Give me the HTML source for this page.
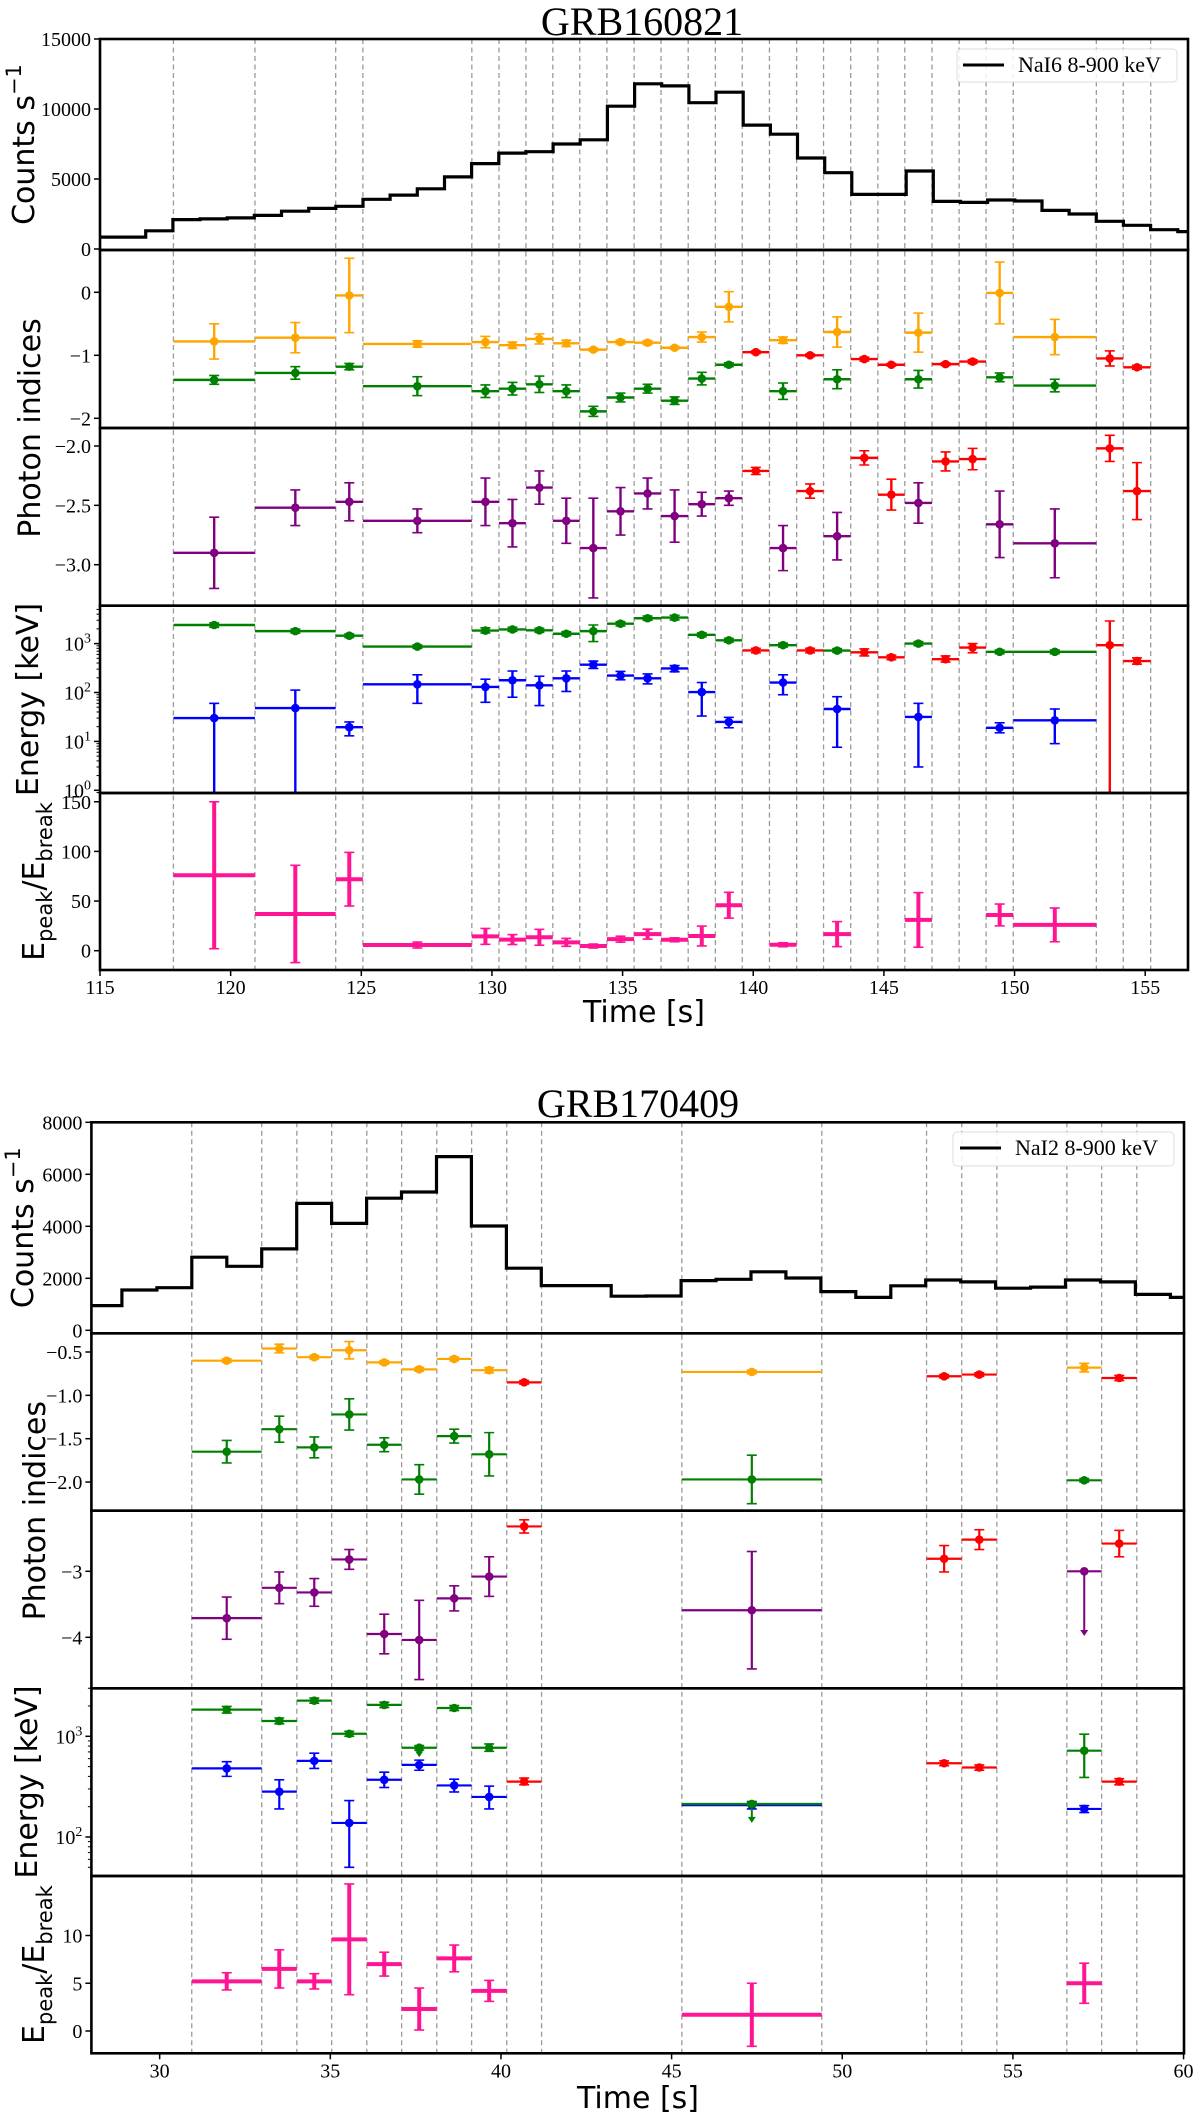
<!DOCTYPE html>
<html><head><meta charset="utf-8">
<style>html,body{margin:0;padding:0;background:#fff}svg{display:block}</style>
</head><body>
<svg id="chart" xmlns="http://www.w3.org/2000/svg" width="1200" height="2120" viewBox="0 0 1200 2120">
<rect x="0" y="0" width="1200" height="2120" fill="#fff"/>
<g id="layer"></g>
<text x="642" y="35" font-family="Liberation Serif, serif" font-size="40" text-anchor="middle">GRB160821</text>
<text x="638" y="1117" font-family="Liberation Serif, serif" font-size="40" text-anchor="middle">GRB170409</text>

<text transform="translate(34,144.5) rotate(-90)" text-anchor="middle" font-family="DejaVu Sans, sans-serif" font-size="30">Counts s<tspan dy="-13" font-size="21">−1</tspan></text>
<text transform="translate(40,428) rotate(-90)" text-anchor="middle" font-family="DejaVu Sans, sans-serif" font-size="30">Photon indices</text>
<text transform="translate(38,699.5) rotate(-90)" text-anchor="middle" font-family="DejaVu Sans, sans-serif" font-size="30">Energy [keV]</text>
<text transform="translate(44,881.5) rotate(-90)" text-anchor="middle" font-family="DejaVu Sans, sans-serif" font-size="30">E<tspan dy="8" font-size="21">peak</tspan><tspan dy="-8">/E</tspan><tspan dy="8" font-size="21">break</tspan></text>
<text x="644" y="1022" text-anchor="middle" font-family="DejaVu Sans, sans-serif" font-size="30">Time [s]</text>

<text transform="translate(33,1227.7) rotate(-90)" text-anchor="middle" font-family="DejaVu Sans, sans-serif" font-size="30">Counts s<tspan dy="-13" font-size="21">−1</tspan></text>
<text transform="translate(45,1510.7) rotate(-90)" text-anchor="middle" font-family="DejaVu Sans, sans-serif" font-size="30">Photon indices</text>
<text transform="translate(37,1782) rotate(-90)" text-anchor="middle" font-family="DejaVu Sans, sans-serif" font-size="30">Energy [keV]</text>
<text transform="translate(44,1964.6) rotate(-90)" text-anchor="middle" font-family="DejaVu Sans, sans-serif" font-size="30">E<tspan dy="8" font-size="21">peak</tspan><tspan dy="-8">/E</tspan><tspan dy="8" font-size="21">break</tspan></text>
<text x="638" y="2108" text-anchor="middle" font-family="DejaVu Sans, sans-serif" font-size="30">Time [s]</text>

<g>
<rect x="957" y="49" width="220" height="33" rx="4" fill="#fff" fill-opacity="0.85" stroke="#ddd" stroke-width="1"/>
<line x1="963" y1="65" x2="1004" y2="65" stroke="#000" stroke-width="3"/>
<text x="1018" y="72" font-family="Liberation Serif, serif" font-size="22">NaI6 8-900 keV</text>
</g>
<g>
<rect x="953" y="1132" width="221" height="34" rx="4" fill="#fff" fill-opacity="0.85" stroke="#ddd" stroke-width="1"/>
<line x1="960" y1="1148" x2="1001" y2="1148" stroke="#000" stroke-width="3"/>
<text x="1015" y="1155" font-family="Liberation Serif, serif" font-size="22">NaI2 8-900 keV</text>
</g>
</svg>
<script>
// ================= GRB160821 data =================
const f1Edges = [117.81,120.93,124.02,125.06,129.23,130.27,131.30,132.33,133.36,134.40,135.44,136.47,137.51,138.55,139.58,140.62,141.66,142.69,143.73,144.77,145.80,146.84,147.88,148.91,149.95,153.13,154.16,155.21];
const f1LcStart = 114.67;
const f1LcStep = 1.0394;
const f1LcCounts = [850,850,1300,2100,2150,2220,2400,2700,2900,3050,3550,3850,4300,5150,6100,6850,6950,7500,7800,10200,11800,11650,10450,11200,8850,8200,6500,5450,3900,3900,5570,3400,3330,3500,3430,2760,2500,1980,1690,1380,1240];
const f1Alpha = [-0.78,-0.72,-0.05,-0.82,-0.79,-0.84,-0.74,-0.81,-0.91,-0.79,-0.80,-0.88,-0.71,-0.23,null,-0.76,null,-0.63,null,null,-0.64,null,null,-0.01,-0.71,null,null];
const f1AlphaErr = [0.28,0.24,0.59,0.05,0.09,0.05,0.08,0.05,0.02,0.03,0.03,0.02,0.08,0.24,null,0.05,null,0.24,null,null,0.31,null,null,0.49,0.28,null,null];
const f1Beta = [-1.39,-1.28,-1.18,-1.49,-1.57,-1.53,-1.46,-1.57,-1.89,-1.67,-1.53,-1.72,-1.37,-1.15,null,-1.57,null,-1.38,null,null,-1.38,null,null,-1.35,-1.48,null,null];
const f1BetaErr = [0.07,0.1,0.05,0.15,0.1,0.1,0.13,0.1,0.08,0.07,0.07,0.06,0.1,0.03,null,0.13,null,0.15,null,null,0.14,null,null,0.07,0.1,null,null];
const f1RedIdx = [null,null,null,null,null,null,null,null,null,null,null,null,null,null,-0.95,null,-1.0,null,-1.06,-1.15,null,-1.14,-1.10,null,null,-1.05,-1.19];
const f1RedIdxErr = [null,null,null,null,null,null,null,null,null,null,null,null,null,null,0.02,null,0.02,null,0.03,0.02,null,0.02,0.03,null,null,0.12,0.03];
const f1Purple = [-2.90,-2.52,-2.47,-2.63,-2.47,-2.65,-2.35,-2.63,-2.86,-2.55,-2.40,-2.59,-2.49,-2.44,null,-2.86,null,-2.76,null,null,-2.48,null,null,-2.66,-2.82,null,null];
const f1PurpleErr = [0.30,0.15,0.16,0.1,0.2,0.2,0.14,0.19,0.42,0.2,0.13,0.22,0.1,0.06,null,0.19,null,0.2,null,null,0.17,null,null,0.28,0.29,null,null];
const f1RedIdx2 = [null,null,null,null,null,null,null,null,null,null,null,null,null,null,-2.21,null,-2.38,null,-2.10,-2.41,null,-2.13,-2.11,null,null,-2.02,-2.38];
const f1RedIdx2Err = [null,null,null,null,null,null,null,null,null,null,null,null,null,null,0.03,null,0.06,null,0.06,0.13,null,0.08,0.09,null,null,0.11,0.24];
const f1Epeak = [2400,1800,1450,870,1850,1950,1870,1590,1800,2550,3300,3400,1510,1170,null,930,null,720,null,null,1000,null,null,680,680,null,null];
const f1EpeakLo = [2150,1640,1330,800,1650,1780,1700,1450,1100,2300,3000,3050,1380,1070,null,850,null,660,null,null,910,null,null,620,620,null,null];
const f1EpeakHi = [2650,1980,1580,940,2100,2150,2050,1750,2400,2800,3650,3800,1650,1280,null,1020,null,790,null,null,1100,null,null,740,740,null,null];
const f1Ebreak = [30,48,19.5,147,130,178,140,195,370,222,195,310,102,25,null,160,null,46,null,null,31.6,null,null,19,27,null,null];
const f1EbreakLo = [0.5,0.5,13,60,63,80,54,105,310,182,150,265,33,19,null,90,null,7.6,null,null,3,null,null,15,9,null,null];
const f1EbreakHi = [60,112,25,230,187,275,215,275,440,270,240,355,160,31,null,230,null,82,null,null,60,null,null,24,46,null,null];
const f1RedE = [null,null,null,null,null,null,null,null,null,null,null,null,null,null,725,null,725,null,665,525,null,480,830,null,null,930,440];
const f1RedELo = [null,null,null,null,null,null,null,null,null,null,null,null,null,null,650,null,650,null,560,470,null,420,650,null,null,0.5,380];
const f1RedEHi = [null,null,null,null,null,null,null,null,null,null,null,null,null,null,800,null,800,null,780,580,null,560,1000,null,null,2900,510];
const f1Ratio = [76,37,72,5.7,14.4,11.2,13.5,8.4,4.7,11.6,16.7,11,14.8,45.8,null,6,null,16.7,null,null,31,null,null,36,26,null,null];
const f1RatioErr = [74,49,27,3,8,5,8,4,2,3,5,2,10,13,null,2,null,12.6,null,null,27.5,null,null,11,17,null,null];
const f1XTicks = [115,120,125,130,135,140,145,150,155];
const f1CountTicks = [0,5000,10000,15000];
const f1IdxTicks = [0,-1,-2];
const f1IdxTickLabels = ['0','−1','−2'];
const f1Idx2Ticks = [-2.0,-2.5,-3.0];
const f1Idx2TickLabels = ['−2.0','−2.5','−3.0'];
const f1EnergyDecades = [0,1,2,3];
const f1RatioTicks = [0,50,100,150];

// ================= GRB170409 data =================
const f2Grid = [30.94,32.99,34.02,35.04,36.07,37.09,38.12,39.14,40.17,41.19,45.3,49.4,52.47,53.5,54.53,56.58,57.6,58.63];
const f2Start = [30.94,32.99,34.02,35.04,36.07,37.09,38.12,39.14,40.17,45.3,52.47,53.5,56.58,57.6];
const f2End =   [32.99,34.02,35.04,36.07,37.09,38.12,39.14,40.17,41.19,49.4,53.5,54.53,57.6,58.63];
const f2LcStart = 27.87;
const f2LcStep = 1.024;
const f2LcCounts = [950,1550,1640,2810,2460,3130,4880,4110,5080,5320,6680,4010,2390,1720,1720,1310,1320,1910,1960,2250,2010,1490,1265,1710,1935,1860,1620,1660,1935,1860,1380,1265];
const f2Alpha = [-0.60,-0.46,-0.56,-0.48,-0.62,-0.70,-0.58,-0.71,null,-0.73,null,null,-0.68,null];
const f2AlphaErr = [0.02,0.05,0.02,0.1,0.02,0.02,0.02,0.03,null,0.02,null,null,0.05,null];
const f2Beta = [-1.65,-1.39,-1.60,-1.22,-1.57,-1.97,-1.47,-1.68,null,-1.97,null,null,-1.98,null];
const f2BetaErr = [0.13,0.15,0.12,0.18,0.08,0.17,0.08,0.25,null,0.28,null,null,0.02,null];
const f2RedIdx = [null,null,null,null,null,null,null,null,-0.85,null,-0.78,-0.76,null,-0.80];
const f2RedIdxErr = [null,null,null,null,null,null,null,null,0.02,null,0.02,0.02,null,0.03];
const f2Purple = [-3.71,-3.25,-3.32,-2.82,-3.95,-4.04,-3.41,-3.08,null,-3.59,null,null,-3.0,null];
const f2PurpleErr = [0.32,0.24,0.21,0.15,0.3,0.6,0.19,0.3,null,0.89,null,null,0,null];
const f2PurpleUL = [null,null,null,null,null,null,null,null,null,null,null,null,-3.98,null];
const f2RedIdx2 = [null,null,null,null,null,null,null,null,-2.32,null,-2.81,-2.52,null,-2.58];
const f2RedIdx2Err = [null,null,null,null,null,null,null,null,0.1,null,0.2,0.15,null,0.2];
const f2Epeak = [1840,1420,2260,1060,2050,770,1910,770,null,213,null,null,720,null];
const f2EpeakLo = [1700,1330,2130,1000,1930,730,1800,710,null,205,null,null,390,null];
const f2EpeakHi = [1980,1520,2400,1120,2180,810,2020,840,null,222,null,null,1050,null];
const f2EpeakUL = [null,null,null,null,null,620,null,null,null,138,null,null,null,null];
const f2Ebreak = [480,282,570,138,370,520,325,250,null,207,null,null,190,null];
const f2EbreakLo = [400,190,480,50,310,460,280,190,null,190,null,null,175,null];
const f2EbreakHi = [560,370,680,230,440,580,375,320,null,225,null,null,205,null];
const f2RedE = [null,null,null,null,null,null,null,null,355,null,540,490,null,355];
const f2RedELo = [null,null,null,null,null,null,null,null,330,null,510,460,null,330];
const f2RedEHi = [null,null,null,null,null,null,null,null,385,null,570,520,null,380];
const f2Ratio = [5.2,6.5,5.2,9.6,7.0,2.3,7.6,4.2,null,1.7,null,null,5.0,null];
const f2RatioErr = [0.9,2.0,0.8,5.8,1.25,2.2,1.4,1.1,null,3.3,null,null,2.1,null];
const f2XTicks = [30,35,40,45,50,55,60];
const f2CountTicks = [0,2000,4000,6000,8000];
const f2IdxTicks = [-0.5,-1.0,-1.5,-2.0];
const f2IdxTickLabels = ['−0.5','−1.0','−1.5','−2.0'];
const f2Idx2Ticks = [-3,-4];
const f2Idx2TickLabels = ['−3','−4'];
const f2EnergyDecades = [2,3];
const f2RatioTicks = [0,5,10];

// ================= rendering =================
const NS = 'http://www.w3.org/2000/svg';
const layer = document.getElementById('layer');
function mk(tag, attrs, parent) {
  const e = document.createElementNS(NS, tag);
  for (const k in attrs) e.setAttribute(k, attrs[k]);
  (parent || layer).appendChild(e);
  return e;
}
const log10 = Math.log10;

const fig1 = {
  id: 'fig1', left: 100, right: 1188, xmin: 115, xmax: 156.63,
  X: t => 100 + (t - 115) * 26.13,
  panels: [
    {top: 39, bot: 250, y: v => 249 - v * (210 / 15000)},
    {top: 250, bot: 428, y: v => 292.3 - v * 63},
    {top: 428, bot: 605.7, y: v => 446 + (-2 - v) * 118.7},
    {top: 605.7, bot: 793, y: v => 790.3 - log10(v) * 48.9, log: true, lmin: -0.05, lmax: 3.77},
    {top: 793, bot: 970, y: v => 950.7 - v * 0.993}
  ]
};
const fig2 = {
  id: 'fig2', left: 91.4, right: 1184, xmin: 28, xmax: 60,
  X: t => 91.4 + (t - 28) * 34.13,
  panels: [
    {top: 1122.3, bot: 1333.3, y: v => 1330.3 - v * 0.026},
    {top: 1333.3, bot: 1510.7, y: v => 1352 + (-0.5 - v) * 86.7},
    {top: 1510.7, bot: 1688.3, y: v => 1571.3 + (-3 - v) * 66},
    {top: 1688.3, bot: 1876, y: v => 1736.3 - (log10(v) - 3) * 100.7, log: true, lmin: 1.61, lmax: 3.48},
    {top: 1876, bot: 2053.3, y: v => 2031 - v * 9.55}
  ]
};

function setupClips(fig) {
  const defs = mk('defs', {});
  fig.panels.forEach((p, i) => {
    const cp = mk('clipPath', {id: fig.id + 'clip' + i}, defs);
    mk('rect', {x: fig.left, y: p.top, width: fig.right - fig.left, height: p.bot - p.top}, cp);
  });
}

function drawGrid(fig, edges) {
  const g = mk('g', {});
  
  
  const top = fig.panels[0].top, bot = fig.panels[4].bot;
  edges.forEach(t => {
    const x = fig.X(t);
    const l = mk('line', {x1: x, x2: x, y1: top, y2: bot, stroke: '#9a9a9a', 'stroke-width': 1.3, 'stroke-dasharray': '5,3.5'}, g);
    
    
  });
}

function drawLightCurve(fig, start, step, counts) {
  const p = fig.panels[0];
  let d = '';
  counts.forEach((c, i) => {
    let t0 = start + i * step, t1 = t0 + step;
    if (t1 <= fig.xmin || t0 >= fig.xmax) return;
    t0 = Math.max(t0, fig.xmin); t1 = Math.min(t1, fig.xmax);
    const y = p.y(c);
    d += (d === '' ? 'M' : 'L') + fig.X(t0).toFixed(1) + ',' + y.toFixed(1) + 'L' + fig.X(t1).toFixed(1) + ',' + y.toFixed(1);
  });
  const path = mk('path', {d: d, fill: 'none', stroke: '#000', 'stroke-width': 3.2, 'stroke-linejoin': 'miter', 'clip-path': 'url(#' + fig.id + 'clip0)'});
  
  
}

function drawSeries(fig, pi, starts, ends, vals, lo, hi, color, lw, r, cap, name, ul) {
  const p = fig.panels[pi];
  const g = mk('g', {'clip-path': 'url(#' + fig.id + 'clip' + pi + ')'});
  
  
  vals.forEach((v, i) => {
    if (v === null || v === undefined) return;
    const x0 = fig.X(starts[i]), x1 = fig.X(ends[i]), xc = (x0 + x1) / 2;
    const y = p.y(v);
    const pg = mk('g', {}, g);
    
    
    mk('line', {x1: x0, x2: x1, y1: y, y2: y, stroke: color, 'stroke-width': lw}, pg);
    const ylo = p.y(lo[i]), yhi = p.y(hi[i]);
    if (Math.abs(ylo - yhi) > 0.5) {
      mk('line', {x1: xc, x2: xc, y1: yhi, y2: ylo, stroke: color, 'stroke-width': lw}, pg);
      mk('line', {x1: xc - cap, x2: xc + cap, y1: yhi, y2: yhi, stroke: color, 'stroke-width': 1.6}, pg);
      mk('line', {x1: xc - cap, x2: xc + cap, y1: ylo, y2: ylo, stroke: color, 'stroke-width': 1.6}, pg);
    }
    if (ul && ul[i] !== null && ul[i] !== undefined) {
      const ya = p.y(ul[i]);
      mk('line', {x1: xc, x2: xc, y1: y, y2: ya - 5, stroke: color, 'stroke-width': 2}, pg);
      const arrow = mk('path', {d: 'M' + (xc - 4) + ',' + (ya - 6) + 'L' + (xc + 4) + ',' + (ya - 6) + 'L' + xc + ',' + ya + 'Z', fill: color}, pg);
      
      
    }
    if (r > 0) {
      const c = mk('circle', {cx: xc, cy: y, r: r, fill: color}, pg);
      
      
    }
  });
}
function symLo(v, e) { return v.map((x, i) => x === null ? null : x - e[i]); }
function symHi(v, e) { return v.map((x, i) => x === null ? null : x + e[i]); }

function drawFrames(fig) {
  fig.panels.forEach((p, i) => {
    const r = mk('rect', {x: fig.left, y: p.top, width: fig.right - fig.left, height: p.bot - p.top, fill: 'none', stroke: '#000', 'stroke-width': 2.6});
    
    
  });
}

function yTicks(fig, pi, ticks, labels) {
  const p = fig.panels[pi];
  const g = mk('g', {});
  
  
  ticks.forEach((v, i) => {
    const y = p.y(v);
    mk('line', {x1: fig.left - 6, x2: fig.left, y1: y, y2: y, stroke: '#000', 'stroke-width': 1.5}, g);
    const t = mk('text', {x: fig.left - 9, y: y + 7, 'text-anchor': 'end', 'font-family': 'Liberation Serif, serif', 'font-size': 20}, g);
    t.textContent = labels ? labels[i] : String(v);
    
    
  });
}

function logTicks(fig, pi, decades) {
  const p = fig.panels[pi];
  const g = mk('g', {});
  
  
  for (let d = Math.floor(p.lmin); d <= Math.ceil(p.lmax); d++) {
    for (let m = 2; m <= 9; m++) {
      const l = d + log10(m);
      if (l < p.lmin || l > p.lmax) continue;
      const y = p.y(Math.pow(10, l));
      mk('line', {x1: fig.left - 3.5, x2: fig.left, y1: y, y2: y, stroke: '#000', 'stroke-width': 1}, g);
    }
  }
  decades.forEach(d => {
    const y = p.y(Math.pow(10, d));
    mk('line', {x1: fig.left - 6, x2: fig.left, y1: y, y2: y, stroke: '#000', 'stroke-width': 1.5}, g);
    const t = mk('text', {x: fig.left - 9, y: y + 7, 'text-anchor': 'end', 'font-family': 'Liberation Serif, serif', 'font-size': 20}, g);
    
    
    t.appendChild(document.createTextNode('10'));
    const s = mk('tspan', {dy: -8, 'font-size': 14}, t);
    s.textContent = String(d);
  });
}

function xTicks(fig, ticks) {
  const bot = fig.panels[4].bot;
  const g = mk('g', {});
  
  
  ticks.forEach(v => {
    const x = fig.X(v);
    mk('line', {x1: x, x2: x, y1: bot, y2: bot + 6, stroke: '#000', 'stroke-width': 1.5}, g);
    const t = mk('text', {x: x, y: bot + 24, 'text-anchor': 'middle', 'font-family': 'Liberation Serif, serif', 'font-size': 20}, g);
    t.textContent = String(v);
    
    
  });
}

const ORANGE = '#FFA500', GREEN = '#008000', PURPLE = '#800080', BLUE = '#0000FF', RED = '#FF0000', PINK = '#FF1493';

setupClips(fig1);
drawGrid(fig1, f1Edges);
drawLightCurve(fig1, f1LcStart, f1LcStep, f1LcCounts);
const f1S = f1Edges.slice(0, -1), f1E = f1Edges.slice(1);
drawSeries(fig1, 1, f1S, f1E, f1Alpha, symLo(f1Alpha, f1AlphaErr), symHi(f1Alpha, f1AlphaErr), ORANGE, 2.4, 4.3, 5, 'fig1-alpha');
drawSeries(fig1, 1, f1S, f1E, f1Beta, symLo(f1Beta, f1BetaErr), symHi(f1Beta, f1BetaErr), GREEN, 2.4, 4.3, 5, 'fig1-beta');
drawSeries(fig1, 1, f1S, f1E, f1RedIdx, symLo(f1RedIdx, f1RedIdxErr), symHi(f1RedIdx, f1RedIdxErr), RED, 2.4, 4.3, 5, 'fig1-cpl-index');
drawSeries(fig1, 2, f1S, f1E, f1Purple, symLo(f1Purple, f1PurpleErr), symHi(f1Purple, f1PurpleErr), PURPLE, 2.4, 4.3, 5, 'fig1-high-energy-index');
drawSeries(fig1, 2, f1S, f1E, f1RedIdx2, symLo(f1RedIdx2, f1RedIdx2Err), symHi(f1RedIdx2, f1RedIdx2Err), RED, 2.4, 4.3, 5, 'fig1-cpl-index2');
drawSeries(fig1, 3, f1S, f1E, f1Epeak, f1EpeakLo, f1EpeakHi, GREEN, 2.4, 4.3, 5, 'fig1-epeak');
drawSeries(fig1, 3, f1S, f1E, f1Ebreak, f1EbreakLo, f1EbreakHi, BLUE, 2.4, 4.3, 5, 'fig1-ebreak');
drawSeries(fig1, 3, f1S, f1E, f1RedE, f1RedELo, f1RedEHi, RED, 2.4, 4.3, 5, 'fig1-cpl-epeak');
drawSeries(fig1, 4, f1S, f1E, f1Ratio, symLo(f1Ratio, f1RatioErr), symHi(f1Ratio, f1RatioErr), PINK, 4, 2.5, 5, 'fig1-epeak-ebreak-ratio');
drawFrames(fig1);
yTicks(fig1, 0, f1CountTicks);
yTicks(fig1, 1, f1IdxTicks, f1IdxTickLabels);
yTicks(fig1, 2, f1Idx2Ticks, f1Idx2TickLabels);
logTicks(fig1, 3, f1EnergyDecades);
yTicks(fig1, 4, f1RatioTicks);
xTicks(fig1, f1XTicks);

setupClips(fig2);
drawGrid(fig2, f2Grid);
drawLightCurve(fig2, f2LcStart, f2LcStep, f2LcCounts);
drawSeries(fig2, 1, f2Start, f2End, f2Alpha, symLo(f2Alpha, f2AlphaErr), symHi(f2Alpha, f2AlphaErr), ORANGE, 2.2, 4.3, 5, 'fig2-alpha');
drawSeries(fig2, 1, f2Start, f2End, f2Beta, symLo(f2Beta, f2BetaErr), symHi(f2Beta, f2BetaErr), GREEN, 2.2, 4.3, 5, 'fig2-beta');
drawSeries(fig2, 1, f2Start, f2End, f2RedIdx, symLo(f2RedIdx, f2RedIdxErr), symHi(f2RedIdx, f2RedIdxErr), RED, 2.2, 4.3, 5, 'fig2-cpl-index');
drawSeries(fig2, 2, f2Start, f2End, f2Purple, symLo(f2Purple, f2PurpleErr), symHi(f2Purple, f2PurpleErr), PURPLE, 2.2, 4.3, 5, 'fig2-high-energy-index', f2PurpleUL);
drawSeries(fig2, 2, f2Start, f2End, f2RedIdx2, symLo(f2RedIdx2, f2RedIdx2Err), symHi(f2RedIdx2, f2RedIdx2Err), RED, 2.2, 4.3, 5, 'fig2-cpl-index2');
drawSeries(fig2, 3, f2Start, f2End, f2Ebreak, f2EbreakLo, f2EbreakHi, BLUE, 2.2, 4.3, 5, 'fig2-ebreak');
drawSeries(fig2, 3, f2Start, f2End, f2Epeak, f2EpeakLo, f2EpeakHi, GREEN, 2.2, 4.3, 5, 'fig2-epeak', f2EpeakUL);
drawSeries(fig2, 3, f2Start, f2End, f2RedE, f2RedELo, f2RedEHi, RED, 2.2, 4.3, 5, 'fig2-cpl-epeak');
drawSeries(fig2, 4, f2Start, f2End, f2Ratio, symLo(f2Ratio, f2RatioErr), symHi(f2Ratio, f2RatioErr), PINK, 4, 2.5, 5, 'fig2-epeak-ebreak-ratio');
drawFrames(fig2);
yTicks(fig2, 0, f2CountTicks);
yTicks(fig2, 1, f2IdxTicks, f2IdxTickLabels);
yTicks(fig2, 2, f2Idx2Ticks, f2Idx2TickLabels);
logTicks(fig2, 3, f2EnergyDecades);
yTicks(fig2, 4, f2RatioTicks);
xTicks(fig2, f2XTicks);
</script>
</body></html>
